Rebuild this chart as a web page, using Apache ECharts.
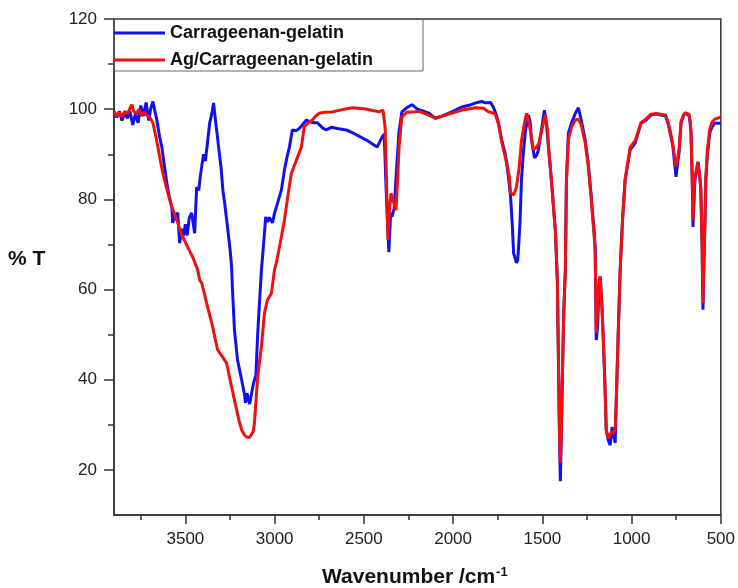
<!DOCTYPE html>
<html>
<head>
<meta charset="utf-8">
<script src="https://cdn.jsdelivr.net/npm/echarts@6/dist/echarts.min.js"></script>
<style>html,body{margin:0;padding:0;background:#fff}#c{width:738px;height:588px}</style>
</head>
<body>
<div id="c"></div>
<script>
const seriesNames = ['Carrageenan-gelatin', 'Ag/Carrageenan-gelatin'];
const xMajorTicks = [500, 1000, 1500, 2000, 2500, 3000, 3500];
const xMinorTicks = [750, 1250, 1750, 2250, 2750, 3250, 3750];
const yMajorTicks = [20, 40, 60, 80, 100, 120];
const yMinorTicks = [30, 50, 70, 90, 110];

const blueWn = [3900,3885,3870,3855,3840,3825,3810,3795,3780,3765,3750,3735,3720,3705,3695,3682,3668,3660,3645,3632,3618,3604,3590,3576,3571,3560,3543,3532,3520,3510,3500,3490,3478,3465,3448,3437,3425,3420,3409,3398,3388,3375,3364,3352,3342,3330,3322,3314,3300,3290,3280,3264,3250,3241,3236,3225,3208,3185,3170,3163,3155,3148,3140,3130,3118,3105,3095,3085,3074,3062,3050,3040,3030,3012,3000,2985,2962,2945,2930,2917,2901,2880,2860,2845,2822,2800,2780,2760,2730,2711,2680,2650,2599,2550,2488,2426,2398,2386,2375,2360,2350,2343,2330,2315,2303,2287,2260,2231,2200,2170,2136,2100,2060,2007,1950,1900,1873,1840,1818,1790,1773,1760,1745,1728,1710,1700,1690,1678,1668,1661,1645,1638,1633,1625,1617,1605,1594,1577,1568,1561,1544,1530,1522,1505,1488,1475,1466,1449,1435,1427,1416,1410,1403,1399,1395,1388,1380,1371,1365,1354,1337,1315,1298,1282,1260,1243,1226,1210,1204,1198,1190,1182,1176,1168,1159,1150,1142,1130,1120,1112,1109,1100,1092,1086,1075,1064,1050,1036,1008,980,947,920,891,860,835,810,796,780,768,751,742,734,723,710,701,679,672,667,660,656,650,645,628,618,612,605,600,595,589,584,575,562,550,534,506,500];
const blueT = [99.5,98.2,99.5,97.5,99.2,98,99.5,96.5,99,97,100.8,98.5,101.5,97.5,100,101.7,99,97.6,94,91.6,87.5,83.6,80.5,78.3,74.8,76.5,77,70.3,73.5,72,74.5,72,76,77,72.5,82.7,82,84,87.2,90,88.5,93,96.9,99,101.4,97,94.5,91.6,87,82,79.2,73.9,69,65,59.9,51,44.4,40,37,34.9,37,36,34.6,34.4,39.3,41,50,57,64.3,70,76.1,75,76,74.8,77,79,82.1,86.5,89.5,91.6,95.4,95.2,95.8,96.5,97.6,97.2,97,97,95.8,95.4,96,95.7,95.4,94.5,93.2,91.6,93.8,94.5,82,68.3,77,76.1,78,88,95,99.4,100.3,101,100,99.6,99.1,98,98.5,99.4,100.5,101,101.4,101.7,101.4,101.5,100.3,99,96.9,93.2,90.5,88.1,85,80.6,74,68.1,65.9,66.5,69.4,75,84.3,91,95.4,98.7,97,93.2,89.2,90,91,95.4,99.8,96,91.6,84.3,77,73.2,62.1,45,25,17.5,25,40,55,64.3,84.3,94.7,96.9,99.1,100.3,97.6,93.2,88.1,80.6,73,69.4,48.8,52,61,62.8,58,49.6,40,28.9,26.5,25.5,28.5,29.5,27.5,26,34.9,50,64.3,76,84.3,91,92.5,96.9,97.5,98.7,99,98.7,98.5,96.9,94,91.6,85,88,90.3,96.9,98.5,99.1,98.7,97,94.7,85,73.9,80,84.3,88.3,85,82.1,70,55.5,65,75,84.3,90,94.7,96,96.9,96.9,97];

const redWn = [3900,3885,3870,3855,3840,3825,3810,3800,3790,3775,3760,3745,3730,3715,3700,3682,3668,3654,3640,3626,3612,3598,3576,3548,3520,3487,3459,3431,3420,3409,3395,3381,3365,3347,3333,3319,3305,3291,3269,3255,3241,3227,3213,3200,3185,3170,3157,3140,3130,3120,3113,3105,3096,3085,3074,3057,3040,3018,3001,2990,2973,2945,2925,2906,2878,2850,2834,2810,2789,2770,2750,2720,2677,2620,2566,2500,2450,2415,2393,2381,2372,2365,2356,2348,2337,2320,2310,2303,2287,2260,2231,2190,2136,2100,2050,2000,1950,1873,1830,1800,1770,1760,1745,1728,1700,1685,1678,1661,1645,1630,1617,1600,1588,1575,1562,1550,1535,1520,1505,1483,1470,1466,1449,1435,1427,1416,1410,1404,1399,1394,1388,1380,1371,1365,1354,1337,1315,1298,1282,1260,1243,1226,1210,1204,1198,1190,1182,1176,1168,1159,1150,1142,1130,1120,1112,1109,1100,1092,1086,1075,1064,1050,1036,1008,980,947,920,891,860,835,810,796,780,768,751,742,734,723,710,701,679,672,667,660,656,650,645,628,618,612,605,600,595,589,584,575,562,550,534,506,500];
const redT = [99.4,98.5,99.2,98.3,99.5,99,100.2,101,99.5,99,100,98.5,99.3,98.6,98.3,96.9,94.5,91.6,88.5,85.8,83.5,81.4,78.3,75.4,72.1,69.4,67.2,64.3,62.1,61.5,59.3,57,54.5,51.7,49,46.6,45.8,45,43.7,41,38.4,35.8,33.3,31,28.9,27.8,27.3,27.2,27.3,28.5,30.4,35,40,44,47.3,54.8,57.7,59.2,64.3,66,69.4,75.4,81,85.8,88.7,91.6,96.1,97,97.6,98.5,99.1,99.3,99.4,99.9,100.3,100.1,99.7,99.4,99.8,96,82,71,78,81.4,79.8,77.6,85,91.6,98.3,99.3,99.4,99.5,98.7,98,98.6,99.2,99.8,100.3,100.2,99.4,99.1,98.5,96.5,92.8,88.1,85,81.4,81,82.7,87,93,97,99.1,97,94,91,91.5,92.3,95,98.7,95,92,84,77,73,62,45,28,21.6,28,40,55,64.3,84,93.2,96,97.6,97.8,96.5,92.5,87.5,80,72,68.5,50.4,55,62,62.9,58,49.6,40,28.9,27,26.6,28.5,28.9,28.2,28.9,35,50,64.3,76,84.5,91.5,93,97,97.8,98.9,99,98.9,98.7,97.2,94.5,92,87.2,89,91,97.2,98.7,99.2,98.9,97.5,95,83,75.4,81,85,88.3,85,82.5,70,57,66,75,85,91,95.5,97,97.8,98.2,98.3];

const pairs = (xs, ys) => xs.map((x, i) => [x, ys[i]]);
const FONT = 'Liberation Sans, Arial, sans-serif';
const AX = '#333';

const chart = echarts.init(document.getElementById('c'), null, {renderer: 'canvas'});
chart.setOption({
  animation: false,
  backgroundColor: '#fff',
  grid: {left: 114, right: 15, top: 19, bottom: 73, show: true, borderColor: AX, borderWidth: 1.5, backgroundColor: 'transparent'},
  legend: {
    orient: 'vertical', left: 114, top: 19,
    data: seriesNames,
    icon: 'rect', itemWidth: 51, itemHeight: 3, itemGap: 9,
    padding: [5, 50, 2, 0],
    borderColor: '#666', borderWidth: 1,
    textStyle: {fontFamily: FONT, fontSize: 18, fontWeight: 'bold', color: '#111', lineHeight: 18}
  },
  xAxis: [{
    type: 'value', min: 500, max: 3900, inverse: true, position: 'bottom',
    axisLine: {show: true, onZero: false, lineStyle: {color: AX, width: 1.5}},
    axisTick: {show: true, inside: false, length: 9, customValues: xMajorTicks, lineStyle: {color: AX, width: 1.5}},
    axisLabel: {customValues: xMajorTicks, formatter: v => String(v), fontFamily: FONT, fontSize: 17, color: '#222', margin: 16},
    splitLine: {show: false}
  }, {
    type: 'value', min: 500, max: 3900, inverse: true, position: 'bottom',
    axisLine: {show: false, onZero: false},
    axisTick: {show: true, inside: false, length: 5, customValues: xMinorTicks, lineStyle: {color: AX, width: 1.5}},
    axisLabel: {show: false},
    splitLine: {show: false}
  }],
  yAxis: [{
    type: 'value', min: 10, max: 120, position: 'left',
    axisLine: {show: true, onZero: false, lineStyle: {color: AX, width: 1.5}},
    axisTick: {show: true, inside: false, length: 10, customValues: yMajorTicks, lineStyle: {color: AX, width: 1.5}},
    axisLabel: {customValues: yMajorTicks, formatter: v => String(v), fontFamily: FONT, fontSize: 17, color: '#222', margin: 17},
    splitLine: {show: false}
  }, {
    type: 'value', min: 10, max: 120, position: 'left',
    axisLine: {show: false, onZero: false},
    axisTick: {show: true, inside: false, length: 6, customValues: yMinorTicks, lineStyle: {color: AX, width: 1.5}},
    axisLabel: {show: false},
    splitLine: {show: false}
  }],
  graphic: [{
    type: 'text', left: 8, top: 249,
    style: {text: '% T', fontFamily: FONT, fontSize: 21, fontWeight: 'bold', fill: '#111'}
  }, {
    type: 'text', left: 322, top: 566,
    style: {
      text: '{a|Wavenumber /cm}{b|-1}',
      rich: {
        a: {fontFamily: FONT, fontSize: 21, fontWeight: 'bold', fill: '#111', color: '#111'},
        b: {fontFamily: FONT, fontSize: 13, fontWeight: 'bold', fill: '#111', color: '#111', verticalAlign: 'top', padding: [0, 0, 10, 1]}
      }
    }
  }],
  series: [{
    name: seriesNames[0], type: 'line', xAxisIndex: 0, yAxisIndex: 0,
    data: pairs(blueWn, blueT), showSymbol: false, symbol: 'none',
    lineStyle: {color: '#1010f0', width: 3}, itemStyle: {color: '#1010f0'}
  }, {
    name: seriesNames[1], type: 'line', xAxisIndex: 0, yAxisIndex: 0,
    data: pairs(redWn, redT), showSymbol: false, symbol: 'none',
    lineStyle: {color: '#f01010', width: 3}, itemStyle: {color: '#f01010'}
  }]
});
</script>
</body>
</html>
